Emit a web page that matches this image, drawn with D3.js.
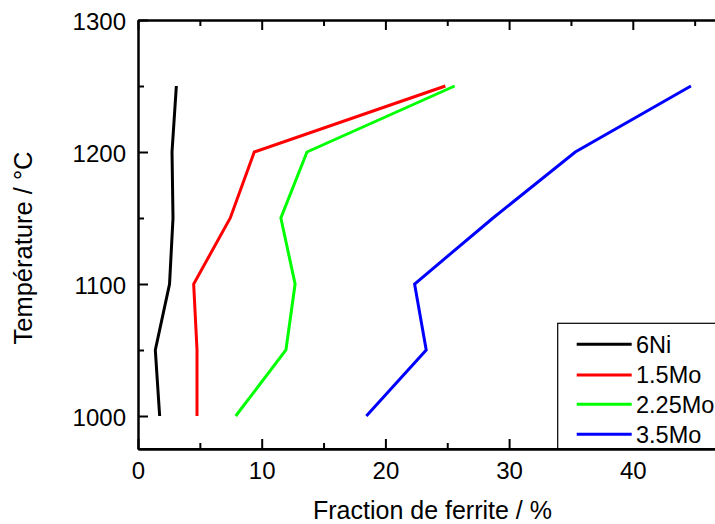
<!DOCTYPE html>
<html>
<head>
<meta charset="utf-8">
<script src="https://cdn.jsdelivr.net/npm/d3@7"></script>
<style>
  html, body { margin: 0; padding: 0; background: #fff; }
  svg { display: block; }
  text { font-family: "Liberation Sans", Arial, sans-serif; fill: #000; }
</style>
</head>
<body>
<svg id="chart" width="715" height="524"></svg>
<script>
// ---- data ----
const temperatures = [1000, 1050, 1100, 1150, 1200, 1250];
const seriesNames = ["6Ni", "1.5Mo", "2.25Mo", "3.5Mo"];
const ferrite6Ni   = [1.75, 1.4, 2.55, 2.83, 2.75, 3.1];
const ferrite15Mo  = [4.77, 4.77, 4.5, 7.46, 9.4, 24.85];
const ferrite225Mo = [7.9, 11.96, 12.7, 11.55, 13.66, 25.6];
const ferrite35Mo  = [18.46, 23.3, 22.36, 28.7, 35.35, 44.7];
const seriesColors = ["#000000", "#ff0000", "#00ff00", "#0000ff"];
const xMajorTicks = [0, 10, 20, 30, 40];
const xMinorTicks = [5, 15, 25, 35, 45];
const yMajorTicks = [1000, 1100, 1200, 1300];
const yMinorTicks = [1050, 1150, 1250];
const xTitle = "Fraction de ferrite / %";
const yTitle = "Température / °C";

// ---- layout ----
const svg = d3.select("#chart");
const mLeft = 138, mTop = 20, mBottom = 449;
const pxPerUnit = 12.37;
const mRight = mLeft + 50 * pxPerUnit;

const x = d3.scaleLinear().domain([0, 50]).range([mLeft, mRight]);
const y = d3.scaleLinear().domain([975, 1300]).range([mBottom, mTop]);

const series = [ferrite6Ni, ferrite15Mo, ferrite225Mo, ferrite35Mo].map((vals, i) => ({
  name: seriesNames[i], color: seriesColors[i],
  points: temperatures.map((t, j) => ({ t, v: vals[j] }))
}));

// ---- axes ----
function styleAxis(g) {
  g.select(".domain").attr("stroke", "#000").attr("stroke-width", 2);
  g.selectAll(".tick line").attr("stroke", "#000").attr("stroke-width", 2);
}

// bottom
svg.append("g").attr("transform", `translate(0,${mBottom})`)
  .call(d3.axisBottom(x).tickValues(xMajorTicks).tickSize(-10).tickSizeOuter(0).tickFormat(d3.format("d")))
  .call(styleAxis)
  .call(g => g.selectAll(".tick text").attr("font-size", 24).attr("y", 30).attr("dy", 0));
svg.append("g").attr("transform", `translate(0,${mBottom})`)
  .call(d3.axisBottom(x).tickValues(xMinorTicks).tickSize(-6).tickSizeOuter(0).tickFormat(""))
  .call(styleAxis);
// top
svg.append("g").attr("transform", `translate(0,${mTop})`)
  .call(d3.axisTop(x).tickValues(xMajorTicks).tickSize(-10).tickSizeOuter(0).tickFormat(""))
  .call(styleAxis);
svg.append("g").attr("transform", `translate(0,${mTop})`)
  .call(d3.axisTop(x).tickValues(xMinorTicks).tickSize(-6).tickSizeOuter(0).tickFormat(""))
  .call(styleAxis);
// left
svg.append("g").attr("transform", `translate(${mLeft},0)`)
  .call(d3.axisLeft(y).tickValues(yMajorTicks).tickSize(-10).tickSizeOuter(0).tickFormat(d3.format("d")))
  .call(styleAxis)
  .call(g => g.selectAll(".tick text").attr("font-size", 24).attr("x", -12).attr("dy", "0.4em"));
svg.append("g").attr("transform", `translate(${mLeft},0)`)
  .call(d3.axisLeft(y).tickValues(yMinorTicks).tickSize(-6).tickSizeOuter(0).tickFormat(""))
  .call(styleAxis);

// ---- lines ----
const line = d3.line().x(d => x(d.v)).y(d => y(d.t));
svg.append("g").selectAll("path.series").data(series).join("path")
  .attr("class", "series")
  .attr("fill", "none")
  .attr("stroke", d => d.color)
  .attr("stroke-width", 3)
  .attr("d", d => line(d.points));

// ---- legend ----
const lg = svg.append("g");
lg.append("rect")
  .attr("x", 557.7).attr("y", 323.3)
  .attr("width", 200).attr("height", mBottom - 323.3)
  .attr("fill", "#fff").attr("stroke", "#000").attr("stroke-width", 1.2);
const rowY = [344.3, 375, 404.3, 434.3];
series.forEach((s, i) => {
  lg.append("line").attr("x1", 576.7).attr("x2", 631.7)
    .attr("y1", rowY[i]).attr("y2", rowY[i])
    .attr("stroke", s.color).attr("stroke-width", 3);
  lg.append("text").attr("x", 636).attr("y", rowY[i]).attr("dy", "0.36em")
    .attr("font-size", 23.5).text(s.name);
});
// redraw bottom axis line over legend border
svg.append("line").attr("x1", mLeft).attr("x2", mRight).attr("y1", mBottom).attr("y2", mBottom)
  .attr("stroke", "#000").attr("stroke-width", 2);

// ---- titles ----
svg.append("text").attr("x", 432.5).attr("y", 518.5)
  .attr("text-anchor", "middle").attr("font-size", 25).text(xTitle);
svg.append("text").attr("transform", "translate(31.7,248) rotate(-90)")
  .attr("text-anchor", "middle").attr("font-size", 25.5).text(yTitle);
</script>
</body>
</html>
